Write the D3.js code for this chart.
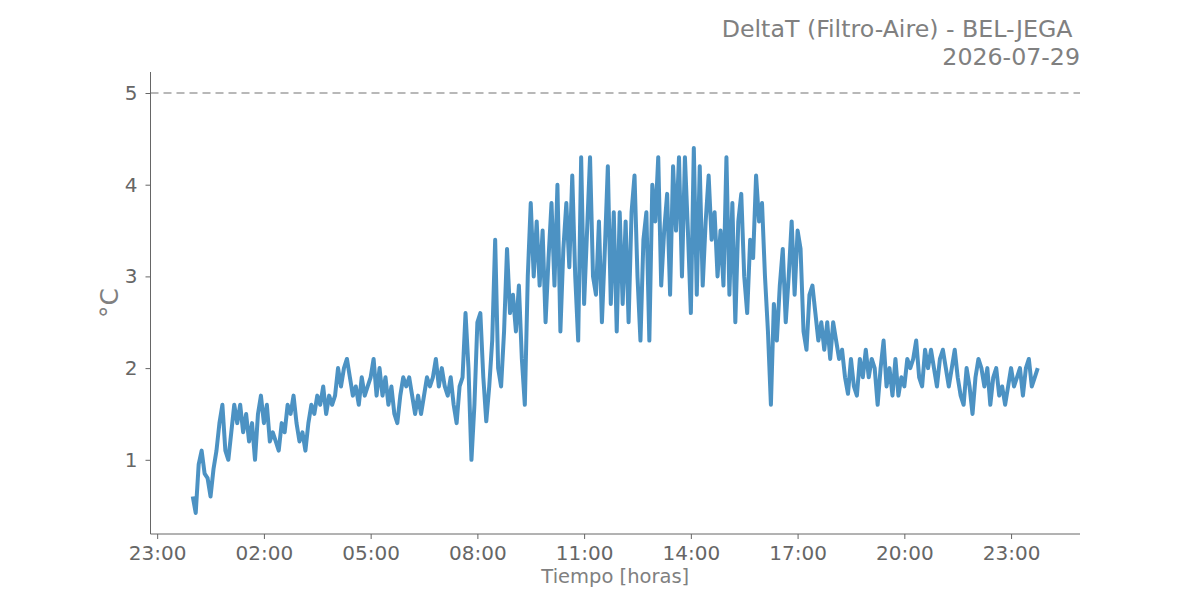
<!DOCTYPE html>
<html>
<head>
    <title>DeltaT (Filtro-Aire) - BEL-JEGA</title>
    <script src="https://d3js.org/d3.v7.min.js"></script>
    <style>
        body {
            margin: 0;
            background: white;
            font-family: "DejaVu Sans", sans-serif;
        }
        .tick text {
            font-family: "DejaVu Sans", sans-serif;
            font-size: 20px;
            fill: #666666;
        }
        .axis path, .axis line {
            stroke: #666666;
        }
    </style>
</head>
<body>
    <div id="chart"></div>

    <script>
        // start of the series, one reading every 5 minutes
        const startTime = "2026-07-29 00:00";
        const stepMinutes = 5;

        // DeltaT values (°C), hour by hour
        const deltaT = [
            0.6, 0.42, 0.95, 1.1, 0.85, 0.8, 0.6, 0.9, 1.1, 1.4, 1.6, 1.1,
            1.0, 1.3, 1.6, 1.4, 1.6, 1.3, 1.5, 1.2, 1.4, 1.0, 1.5, 1.7,
            1.4, 1.6, 1.2, 1.3, 1.2, 1.1, 1.4, 1.3, 1.6, 1.5, 1.7, 1.4,
            1.2, 1.3, 1.1, 1.4, 1.6, 1.5, 1.7, 1.6, 1.8, 1.5, 1.7, 1.6,
            1.7, 2.0, 1.8, 2.0, 2.1, 1.9, 1.7, 1.8, 1.6, 1.9, 1.7, 1.8,
            1.9, 2.1, 1.7, 2.0, 1.7, 1.9, 1.6, 1.8, 1.5, 1.4, 1.7, 1.9,
            1.8, 1.9, 1.7, 1.5, 1.7, 1.5, 1.7, 1.9, 1.8, 1.9, 2.1, 1.8,
            2.0, 1.8, 1.7, 1.9, 1.6, 1.4, 1.8, 1.9, 2.6, 2.0, 1.0, 1.6,
            2.5, 2.6, 1.9, 1.42, 1.8, 2.3, 3.4, 2.0, 1.8, 2.4, 3.3, 2.6,
            2.8, 2.4, 2.9, 2.1, 1.6, 3.0, 3.8, 3.0, 3.6, 2.9, 3.5, 2.5,
            3.2, 3.8, 2.9, 4.0, 2.4, 3.3, 3.8, 3.1, 4.1, 3.0, 2.3, 4.3,
            2.7, 3.5, 4.3, 3.0, 2.8, 3.6, 2.5, 3.3, 4.2, 2.7, 3.7, 2.4,
            3.7, 2.7, 3.6, 2.5, 3.7, 4.1, 3.0, 2.3, 3.4, 3.7, 2.3, 4.0,
            3.6, 4.3, 2.9, 3.5, 3.9, 2.8, 4.2, 3.5, 4.3, 3.0, 4.3, 3.5,
            2.6, 4.4, 2.8, 4.2, 2.9, 3.6, 4.1, 3.4, 3.7, 3.0, 3.5, 2.9,
            4.3, 2.8, 3.8, 2.5, 3.6, 3.9, 3.0, 2.6, 3.4, 3.2, 4.1, 3.6,
            3.8, 3.0, 2.4, 1.6, 2.7, 2.3, 2.9, 3.3, 2.5, 3.0, 3.6, 2.8,
            3.5, 3.3, 2.4, 2.2, 2.8, 2.9, 2.6, 2.3, 2.5, 2.2, 2.5, 2.1,
            2.5, 2.3, 2.1, 2.2, 1.9, 1.72, 2.1, 1.8, 1.7, 2.1, 1.9, 2.2,
            1.9, 2.1, 2.0, 1.6, 2.0, 2.3, 1.8, 2.0, 1.7, 2.1, 1.7, 1.9,
            1.8, 2.1, 2.0, 2.1, 2.3, 1.9, 1.8, 2.2, 2.0, 2.2, 2.0, 1.8,
            2.1, 2.2, 2.0, 1.8, 2.0, 2.2, 1.9, 1.7, 1.6, 2.0, 1.8, 1.5,
            1.9, 2.1, 2.0, 1.8, 2.0, 1.6, 1.9, 2.0, 1.7, 1.8, 1.6, 1.8,
            2.0, 1.8, 1.9, 2.0, 1.7, 2.0, 2.1, 1.8, 1.9, 2.0
        ];

        // x axis tick positions and y axis ticks
        const xTickTimes = ["2026-07-28 23:00", "2026-07-29 02:00", "2026-07-29 05:00",
                            "2026-07-29 08:00", "2026-07-29 11:00", "2026-07-29 14:00",
                            "2026-07-29 17:00", "2026-07-29 20:00", "2026-07-29 23:00"];
        const yTicks = [1, 2, 3, 4, 5];
        const limitValue = 5;

        const titleLines = ["DeltaT (Filtro-Aire) - BEL-JEGA ", "2026-07-29"];
        const yLabel = "°C";
        const xLabel = "Tiempo [horas]";

        const width = 1200, height = 600;
        const margin = {top: 72, right: 120, bottom: 66, left: 150.5};

        const parseTime = d3.timeParse("%Y-%m-%d %H:%M");
        const t0 = parseTime(startTime);
        const data = deltaT.map((v, i) => ({
            time: d3.timeMinute.offset(t0, i * stepMinutes),
            value: v
        }));

        // matplotlib style 5% margins
        var tMin = data[0].time, tMax = data[data.length - 1].time;
        var tPad = (tMax - tMin) * 0.05;
        var vMin = Math.min(d3.min(data, d => d.value), limitValue);
        var vMax = Math.max(d3.max(data, d => d.value), limitValue);
        var vPad = (vMax - vMin) * 0.05;

        var xScale = d3.scaleTime()
            .domain([new Date(+tMin - tPad), new Date(+tMax + tPad)])
            .range([margin.left, width - margin.right]);
        var yScale = d3.scaleLinear()
            .domain([vMin - vPad, vMax + vPad])
            .range([height - margin.bottom, margin.top]);

        var svg = d3.select("#chart").append("svg")
            .attr("width", width)
            .attr("height", height);

        // dashed reference line at 5 °C
        svg.append("line")
            .attr("x1", margin.left)
            .attr("x2", width - margin.right)
            .attr("y1", yScale(limitValue))
            .attr("y2", yScale(limitValue))
            .style("stroke", "#b8b8b8")
            .style("stroke-width", 2)
            .style("stroke-dasharray", "8, 5");

        // the series
        var line = d3.line()
            .x(d => xScale(d.time))
            .y(d => yScale(d.value));

        svg.append("path")
            .datum(data)
            .attr("d", line)
            .style("fill", "none")
            .style("stroke", "#1f77b4")
            .style("stroke-opacity", 0.8)
            .style("stroke-width", 4)
            .style("stroke-linejoin", "round");

        // axes, only left and bottom spines
        var xAxis = svg.append("g")
            .attr("class", "axis")
            .attr("transform", "translate(0," + (height - margin.bottom) + ")")
            .call(d3.axisBottom(xScale)
                .tickValues(xTickTimes.map(parseTime))
                .tickFormat(d3.timeFormat("%H:%M"))
                .tickSize(5)
                .tickPadding(7)
                .tickSizeOuter(0));

        var yAxis = svg.append("g")
            .attr("class", "axis")
            .attr("transform", "translate(" + margin.left + ",0)")
            .call(d3.axisLeft(yScale)
                .tickValues(yTicks)
                .tickFormat(d3.format("d"))
                .tickSize(5)
                .tickPadding(8)
                .tickSizeOuter(0));

        // extend spines over the whole plotting area
        xAxis.select(".domain").attr("d", "M" + margin.left + ",0H" + (width - margin.right));
        yAxis.select(".domain").attr("d", "M0," + margin.top + "V" + (height - margin.bottom));

        // title, right aligned
        svg.selectAll(".title")
            .data(titleLines)
            .enter().append("text")
            .attr("class", "title")
            .attr("x", width - margin.right)
            .attr("y", (d, i) => 37 + i * 28)
            .style("text-anchor", "end")
            .style("white-space", "pre")
            .style("font-size", "23.7px")
            .style("fill", "#808080")
            .text(d => d);

        // axis titles
        svg.append("text")
            .attr("transform", "translate(" + (margin.left + (width - margin.right - margin.left) / 2) + "," + 583 + ")")
            .style("text-anchor", "middle")
            .style("font-size", "19.5px")
            .style("fill", "#808080")
            .text(xLabel);

        svg.append("text")
            .attr("transform", "translate(118," + ((margin.top + height - margin.bottom) / 2) + ") rotate(-90)")
            .style("text-anchor", "middle")
            .style("font-size", "25px")
            .style("fill", "#808080")
            .text(yLabel);
    </script>
</body>
</html>
